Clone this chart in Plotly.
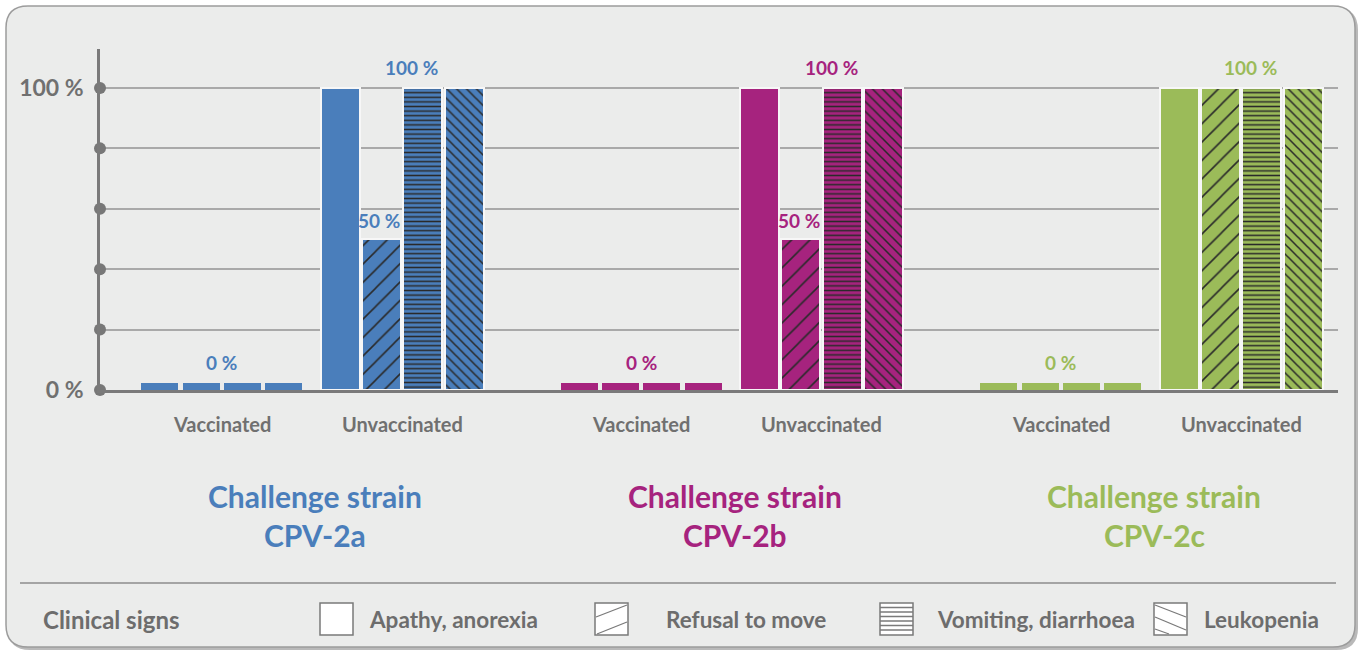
import plotly.graph_objects as go

# ---------------- data ----------------
strains = ["CPV-2a", "CPV-2b", "CPV-2c"]
strain_colors = ["#4a7ebb", "#a6237e", "#9bbb59"]
signs = ["Apathy, anorexia", "Refusal to move", "Vomiting, diarrhoea", "Leukopenia"]
sign_patterns = ["", "/", "-", "\\"]
groups = ["Vaccinated", "Unvaccinated"]

vacc_2a = [0, 0, 0, 0]
unvacc_2a = [100, 50, 100, 100]
vacc_2b = [0, 0, 0, 0]
unvacc_2b = [100, 50, 100, 100]
vacc_2c = [0, 0, 0, 0]
unvacc_2c = [100, 100, 100, 100]

y_ticks = [0, 20, 40, 60, 80, 100]
y_ticktext = ["0 %", "", "", "", "", "100 %"]

values = {
    ("CPV-2a", "Vaccinated"): vacc_2a, ("CPV-2a", "Unvaccinated"): unvacc_2a,
    ("CPV-2b", "Vaccinated"): vacc_2b, ("CPV-2b", "Unvaccinated"): unvacc_2b,
    ("CPV-2c", "Vaccinated"): vacc_2c, ("CPV-2c", "Unvaccinated"): unvacc_2c,
}

# ---------------- layout geometry ----------------
W, H = 1362, 651
L, R, T, B = 100, 1338, 49, 390          # plot area in px
PITCH = 41.3                              # px per x unit
XMAX = (R - L) / PITCH
YMAX = 112.9
GROUP_START = {"Vaccinated": 1.448, "Unvaccinated": 5.816}
STRAIN_STEP = 10.157
ZERO_STUB = 2.3                           # visible stub for 0 % bars
GRAY = "#707070"
FONT = "Lato"
HATCH = "#2a2a2a"


def X(px):
    return (px - L) / (R - L)


def Y(py):
    return (B - py) / (B - T)


def pos(si, g, k):
    return GROUP_START[g] + si * STRAIN_STEP + k


fig = go.Figure()

# bars: one trace per clinical sign and strain (scalar colour so hatch colours apply)
for k, (sign, pat) in enumerate(zip(signs, sign_patterns)):
    for si, s in enumerate(strains):
        xs, ys, widths, lws, shp = [], [], [], [], []
        for g in groups:
            v = values[(s, g)][k]
            xs.append(pos(si, g, k))
            ys.append(v if v > 0 else ZERO_STUB)
            if g == "Unvaccinated":
                widths.append(39 / PITCH)
                lws.append(2)
                shp.append(pat)
            else:
                widths.append(37 / PITCH)
                lws.append(0)
                shp.append("")
        col = strain_colors[si]
        marker = dict(color=col, line=dict(color="#f7f7f7", width=lws))
        if pat:
            size = {"/": 13, "-": 4.6, "\\": 7}[pat]
            sol = {"/": 0.12, "-": 0.33, "\\": 0.22}[pat]
            marker["pattern"] = dict(shape=shp, fillmode="overlay", fgcolor=HATCH,
                                     bgcolor=col, size=size, solidity=sol, fgopacity=1)
        fig.add_trace(go.Bar(x=xs, y=ys, width=widths, marker=marker, name=sign,
                             showlegend=False, hoverinfo="skip"))

# dots on the y axis
fig.add_trace(go.Scatter(x=[0] * len(y_ticks), y=y_ticks, mode="markers",
                         marker=dict(size=12, color="#777777"), cliponaxis=False,
                         showlegend=False, hoverinfo="skip"))

annotations = []
# value labels
for si, s in enumerate(strains):
    col = strain_colors[si]
    for g in groups:
        vals = values[(s, g)]
        vmax = max(vals)
        gc = GROUP_START[g] + si * STRAIN_STEP + 1.5
        if vmax == 0:
            annotations.append(dict(x=gc, y=ZERO_STUB, xref="x", yref="y", text="<b>0 %</b>",
                                    showarrow=False, yanchor="bottom", yshift=7,
                                    font=dict(family=FONT, size=19, color=col)))
        else:
            annotations.append(dict(x=gc + 0.23, y=vmax, xref="x", yref="y",
                                    text=f"<b>{vmax} %</b>", showarrow=False,
                                    yanchor="bottom", yshift=7,
                                    font=dict(family=FONT, size=19, color=col)))
            for k, v in enumerate(vals):
                if v != vmax:
                    annotations.append(dict(x=pos(si, g, k) - 0.05, y=v, xref="x", yref="y",
                                            text=f"<b>{v} %</b>", showarrow=False,
                                            yanchor="bottom", yshift=5,
                                            font=dict(family=FONT, size=19, color=col)))
        # group labels
        annotations.append(dict(x=gc, y=Y(424), xref="x", yref="paper", text=f"<b>{g}</b>",
                                showarrow=False, yanchor="middle",
                                font=dict(family=FONT, size=20, color=GRAY)))
    # strain titles
    sc = GROUP_START["Vaccinated"] + si * STRAIN_STEP + (GROUP_START["Unvaccinated"] - GROUP_START["Vaccinated"] + 3) / 2 + 0.08
    annotations.append(dict(x=sc, y=Y(496), xref="x", yref="paper", text="<b>Challenge strain</b>",
                            showarrow=False, yanchor="middle",
                            font=dict(family=FONT, size=30, color=col)))
    annotations.append(dict(x=sc, y=Y(535), xref="x", yref="paper", text=f"<b>{s}</b>",
                            showarrow=False, yanchor="middle",
                            font=dict(family=FONT, size=30, color=col)))

# legend
LEG_GRAY = "#6d6d6d"
annotations.append(dict(x=X(41), y=Y(619), xref="paper", yref="paper", text="<b>Clinical signs</b>",
                        showarrow=False, xanchor="left", yanchor="middle",
                        font=dict(family=FONT, size=24, color=LEG_GRAY)))
box_x = [320, 595, 880, 1154]
text_x = [367, 664, 935, 1202]
for sign, tx in zip(signs, text_x):
    annotations.append(dict(x=X(tx), y=Y(619), xref="paper", yref="paper", text=f"<b>{sign}</b>",
                            showarrow=False, xanchor="left", yanchor="middle",
                            font=dict(family=FONT, size=22.5, color=LEG_GRAY)))

shapes = []


def rr_path(x0, y0, x1, y1, r):
    pts = [
        f"M {X(x0 + r)},{Y(y0)}", f"L {X(x1 - r)},{Y(y0)}",
        f"Q {X(x1)},{Y(y0)} {X(x1)},{Y(y0 + r)}", f"L {X(x1)},{Y(y1 - r)}",
        f"Q {X(x1)},{Y(y1)} {X(x1 - r)},{Y(y1)}", f"L {X(x0 + r)},{Y(y1)}",
        f"Q {X(x0)},{Y(y1)} {X(x0)},{Y(y1 - r)}", f"L {X(x0)},{Y(y0 + r)}",
        f"Q {X(x0)},{Y(y0)} {X(x0 + r)},{Y(y0)}", "Z",
    ]
    return " ".join(pts)


# frame shadow + frame
shapes.append(dict(type="path", xref="paper", yref="paper", layer="below",
                   path=rr_path(8, 8, 1358, 650, 22), fillcolor="#b9b9b9", line=dict(width=0)))
shapes.append(dict(type="path", xref="paper", yref="paper", layer="below",
                   path=rr_path(6, 6, 1355, 647, 22), fillcolor="#ebeceb",
                   line=dict(color="#9c9c9c", width=1.5)))
# separator
shapes.append(dict(type="line", xref="paper", yref="paper", x0=X(20), x1=X(1336), y0=Y(583), y1=Y(583),
                   line=dict(color="#8c8c8c", width=1.5)))

# legend boxes
BOX_LINE = "#7a7a7a"
for bx, pat in zip(box_x, sign_patterns):
    x0, x1, y0, y1 = bx, bx + 33, 603, 635
    shapes.append(dict(type="rect", xref="paper", yref="paper", x0=X(x0), x1=X(x1), y0=Y(y0), y1=Y(y1),
                       fillcolor="white", line=dict(color=BOX_LINE, width=1.5)))
    segs = []
    if pat == "/":
        segs = [((x0 + 1, 617), (x1 - 1, 605)), ((x0 + 2, 634), (x1 - 1, 622))]
    elif pat == "-":
        segs = [((x0, y0 + 4.5 * i), (x1, y0 + 4.5 * i)) for i in range(1, 7)]
    elif pat == "\\":
        segs = [((x0 + 1, 605), (x1 - 1, 617)), ((x0 + 1, 617), (x1 - 1, 630)),
                ((x0 + 1, 629), (x0 + 15, 634))]
    for (a, b), (c, d) in segs:
        shapes.append(dict(type="line", xref="paper", yref="paper", x0=X(a), y0=Y(b), x1=X(c), y1=Y(d),
                           line=dict(color=BOX_LINE, width=1.3)))

fig.update_layout(
    width=W, height=H,
    margin=dict(l=L, r=W - R, t=T, b=H - B, pad=0),
    paper_bgcolor="white", plot_bgcolor="rgba(0,0,0,0)",
    barmode="overlay", bargap=0,
    showlegend=False,
    xaxis=dict(range=[0, XMAX], showgrid=False, zeroline=False, showticklabels=False,
               showline=True, linecolor="#7a7a7a", linewidth=2.5, ticks=""),
    yaxis=dict(range=[0, YMAX], tickvals=y_ticks, ticktext=y_ticktext, showgrid=True,
               gridcolor="#a9a9a9", gridwidth=1.5, zeroline=False, showline=True,
               linecolor="#7a7a7a", linewidth=2.5, ticks="", ticklabelstandoff=9,
               tickfont=dict(family=FONT, size=23, color=GRAY, weight="bold")),
    annotations=annotations, shapes=shapes,
)

fig.write_html("out.html", config={"displayModeBar": False},
               post_script="document.body.style.margin='0';document.body.style.overflow='hidden';")
